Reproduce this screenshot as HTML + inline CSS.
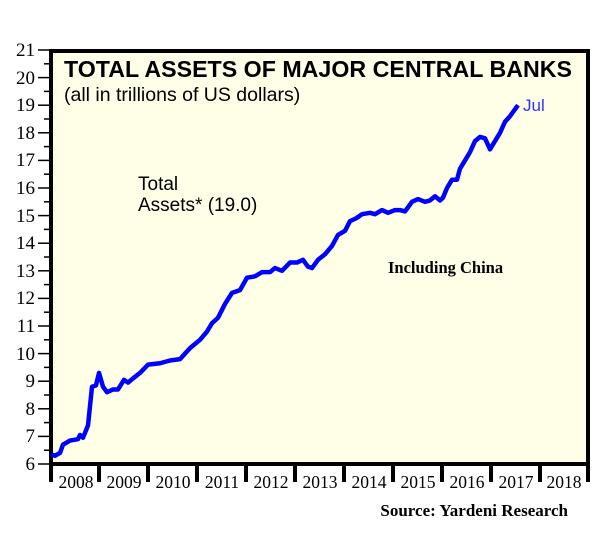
<!DOCTYPE html>
<html><head><style>body{margin:0;background:#fff}</style></head><body>
<svg width="603" height="554" xmlns="http://www.w3.org/2000/svg" style="font-family:'Liberation Serif',serif">
<rect x="50" y="50" width="538" height="414" fill="#fffee6"/>
<g stroke="#000" stroke-width="1.5">
<line x1="38" y1="50" x2="50" y2="50"/><line x1="38" y1="77.6" x2="50" y2="77.6"/><line x1="38" y1="105.2" x2="50" y2="105.2"/><line x1="38" y1="132.8" x2="50" y2="132.8"/><line x1="38" y1="160.4" x2="50" y2="160.4"/><line x1="38" y1="188" x2="50" y2="188"/><line x1="38" y1="215.6" x2="50" y2="215.6"/><line x1="38" y1="243.2" x2="50" y2="243.2"/><line x1="38" y1="270.8" x2="50" y2="270.8"/><line x1="38" y1="298.4" x2="50" y2="298.4"/><line x1="38" y1="326" x2="50" y2="326"/><line x1="38" y1="353.6" x2="50" y2="353.6"/><line x1="38" y1="381.2" x2="50" y2="381.2"/><line x1="38" y1="408.8" x2="50" y2="408.8"/><line x1="38" y1="436.4" x2="50" y2="436.4"/><line x1="38" y1="464" x2="50" y2="464"/>
<line x1="44" y1="63.8" x2="50" y2="63.8"/><line x1="44" y1="91.4" x2="50" y2="91.4"/><line x1="44" y1="119" x2="50" y2="119"/><line x1="44" y1="146.6" x2="50" y2="146.6"/><line x1="44" y1="174.2" x2="50" y2="174.2"/><line x1="44" y1="201.8" x2="50" y2="201.8"/><line x1="44" y1="229.4" x2="50" y2="229.4"/><line x1="44" y1="257" x2="50" y2="257"/><line x1="44" y1="284.6" x2="50" y2="284.6"/><line x1="44" y1="312.2" x2="50" y2="312.2"/><line x1="44" y1="339.8" x2="50" y2="339.8"/><line x1="44" y1="367.4" x2="50" y2="367.4"/><line x1="44" y1="395" x2="50" y2="395"/><line x1="44" y1="422.6" x2="50" y2="422.6"/><line x1="44" y1="450.2" x2="50" y2="450.2"/>
</g>
<g stroke="#000" stroke-width="4">
<line x1="51" y1="464" x2="51" y2="482"/><line x1="99" y1="464" x2="99" y2="482"/><line x1="148" y1="464" x2="148" y2="482"/><line x1="197" y1="464" x2="197" y2="482"/><line x1="246" y1="464" x2="246" y2="482"/><line x1="295" y1="464" x2="295" y2="482"/><line x1="344" y1="464" x2="344" y2="482"/><line x1="393" y1="464" x2="393" y2="482"/><line x1="442" y1="464" x2="442" y2="482"/><line x1="491" y1="464" x2="491" y2="482"/><line x1="540" y1="464" x2="540" y2="482"/><line x1="588" y1="464" x2="588" y2="482"/>
</g>
<rect x="51" y="51" width="537" height="413" fill="none" stroke="#000" stroke-width="4"/>
<g font-size="19" fill="#000" text-anchor="end">
<text x="35" y="56">21</text><text x="35" y="84">20</text><text x="35" y="111">19</text><text x="35" y="139">18</text><text x="35" y="166">17</text><text x="35" y="194">16</text><text x="35" y="222">15</text><text x="35" y="249">14</text><text x="35" y="277">13</text><text x="35" y="304">12</text><text x="35" y="332">11</text><text x="35" y="360">10</text><text x="35" y="387">9</text><text x="35" y="415">8</text><text x="35" y="442">7</text><text x="35" y="470">6</text>
</g>
<g font-size="17.5" text-anchor="middle">
<text x="76" y="488">2008</text><text x="124" y="488">2009</text><text x="173" y="488">2010</text><text x="222" y="488">2011</text><text x="271" y="488">2012</text><text x="320" y="488">2013</text><text x="369" y="488">2014</text><text x="418" y="488">2015</text><text x="467" y="488">2016</text><text x="516" y="488">2017</text><text x="564" y="488">2018</text>
</g>
<text x="64" y="77" font-family="Liberation Sans,sans-serif" font-weight="bold" font-size="23" textLength="508" lengthAdjust="spacingAndGlyphs">TOTAL ASSETS OF MAJOR CENTRAL BANKS</text>
<text x="64" y="101" font-family="Liberation Sans,sans-serif" font-size="19.5">(all in trillions of US dollars)</text>
<text x="138" y="190" font-family="Liberation Sans,sans-serif" font-size="19">Total</text>
<text x="138" y="211" font-family="Liberation Sans,sans-serif" font-size="19">Assets* (19.0)</text>
<text x="388" y="273" font-weight="bold" font-size="16.5">Including China</text>
<text x="523" y="111" font-family="Liberation Sans,sans-serif" font-size="17" fill="#3030ff">Jul</text>
<text x="568" y="516" text-anchor="end" font-weight="bold" font-size="17">Source:  Yardeni Research</text>
<g transform="translate(0,629.6) scale(1,-27.6)">
<polyline fill="none" stroke="#0000ff" stroke-width="4.5" vector-effect="non-scaling-stroke" stroke-linejoin="round" points="51,6.35 55,6.3 60,6.4 63,6.7 70,6.85 78,6.9 80,7.05 83,6.95 88,7.4 92,8.8 96,8.85 99,9.3 103,8.8 107,8.6 113,8.7 118,8.7 124,9.05 128,8.95 133,9.1 140,9.3 148,9.6 160,9.65 170,9.75 180,9.8 190,10.2 200,10.5 207,10.8 212,11.1 218,11.3 225,11.8 232,12.2 240,12.3 247,12.75 255,12.8 262,12.95 270,12.95 275,13.1 282,13.0 290,13.3 297,13.3 303,13.4 308,13.15 312,13.1 318,13.4 325,13.6 332,13.9 338,14.3 345,14.45 350,14.8 356,14.9 362,15.05 370,15.1 375,15.05 382,15.2 388,15.1 395,15.2 400,15.2 405,15.15 412,15.5 418,15.6 425,15.5 430,15.55 435,15.7 440,15.55 443,15.65 447,16.0 452,16.3 457,16.3 460,16.7 465,17.0 470,17.3 475,17.7 480,17.85 485,17.8 490,17.4 495,17.7 500,18.0 505,18.4 510,18.6 518,19.0"/>
</g>
</svg>
</body></html>
